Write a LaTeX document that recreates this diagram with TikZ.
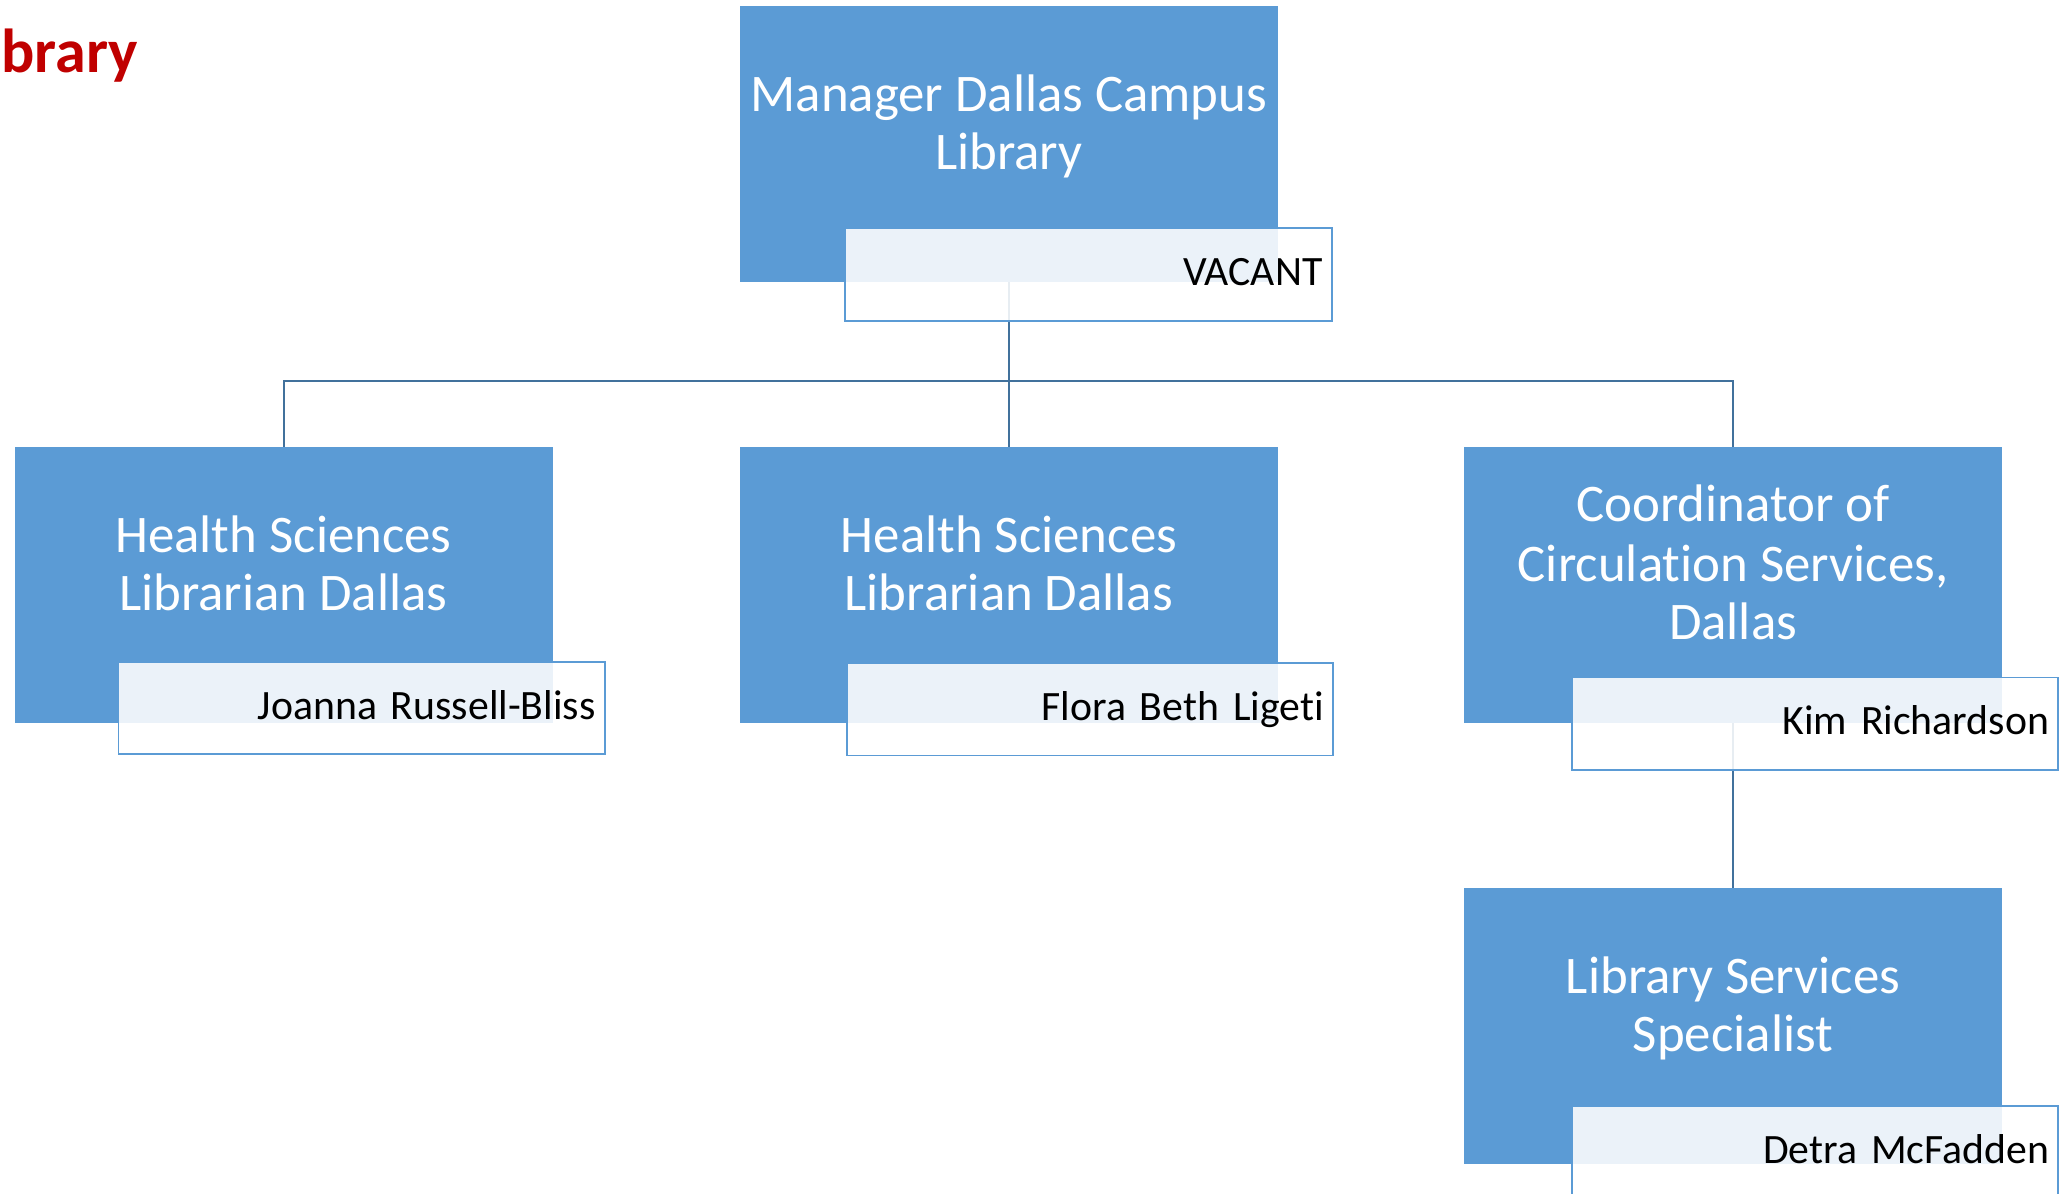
\documentclass[tikz,border=0pt]{standalone}
\usepackage{fontspec}
\setmainfont{Carlito}[Ligatures={NoCommon,NoContextual}]
\newfontfamily\namefont{Carlito}[Ligatures={NoCommon,NoContextual},WordSpace=0.85]
\definecolor{boxblue}{RGB}{91,155,213}
\definecolor{linkblue}{RGB}{65,113,156}
\definecolor{titlered}{RGB}{192,0,0}
\begin{document}
\begin{tikzpicture}[x=1pt,y=-1pt,
  rolebox/.style={fill=boxblue, draw=none, inner sep=0pt, anchor=north west,
    minimum width=407, minimum height=209},
  namebox/.style={fill=white, fill opacity=0.88, text opacity=1, draw=boxblue,
    line width=1.4, anchor=north west, minimum width=368, minimum height=70,
    text width=354, inner sep=7, align=right, text height=23, text depth=6,
    font=\namefont\fontsize{31.6}{38}\selectfont, text=black},
  roletext/.style={anchor=base, inner sep=0pt, text=white,
    font=\fontsize{40}{44}\selectfont},
  link/.style={draw=linkblue, line width=1.5}]
\useasboundingbox (0,0) rectangle (1568,903);
% title fragment
\node[anchor=base west, inner sep=0pt, text=titlered,
  font=\fontsize{47}{52}\selectfont\bfseries] (ttl) at (1,55) {brary};
% role boxes
\node[rolebox] (mgr) at (560,4) {};
\node[rolebox] (hs1) at (11,338) {};
\node[rolebox] (hs2) at (560,338) {};
\node[rolebox] (coord) at (1108,338) {};
\node[rolebox] (lss) at (1108,672) {};
% connectors
\draw[link] (mgr.south) -- (hs2.north);
\draw[link] (hs1.north) -- ++(0,-50) -| (coord.north);
\draw[link] (coord.south) -- (lss.north);
% role texts
\node[roletext] (mgr-t1) at (763.5,84) {Manager Dallas Campus};
\node[roletext] (mgr-t2) at (763.5,128) {Library};
\node[roletext] (hs1-t1) at (214.5,418) {Health Sciences};
\node[roletext] (hs1-t2) at (214.5,462) {Librarian Dallas};
\node[roletext] (hs2-t1) at (763.5,418) {Health Sciences};
\node[roletext] (hs2-t2) at (763.5,462) {Librarian Dallas};
\node[roletext] (coord-t1) at (1311.5,395) {Coordinator of};
\node[roletext] (coord-t2) at (1311.5,440) {Circulation Services,};
\node[roletext] (coord-t3) at (1311.5,484) {Dallas};
\node[roletext] (lss-t1) at (1311.5,752) {Library Services};
\node[roletext] (lss-t2) at (1311.5,796) {Specialist};
% name boxes
\node[namebox] (mgr-n) at (639,172) {VACANT};
\node[namebox] (hs1-n) at (89,500) {Joanna Russell-Bliss};
\node[namebox] (hs2-n) at (640,501) {Flora Beth Ligeti};
\node[namebox] (coord-n) at (1189,512) {Kim Richardson};
\node[namebox] (lss-n) at (1189,836) {Detra McFadden};
\end{tikzpicture}
\end{document}
